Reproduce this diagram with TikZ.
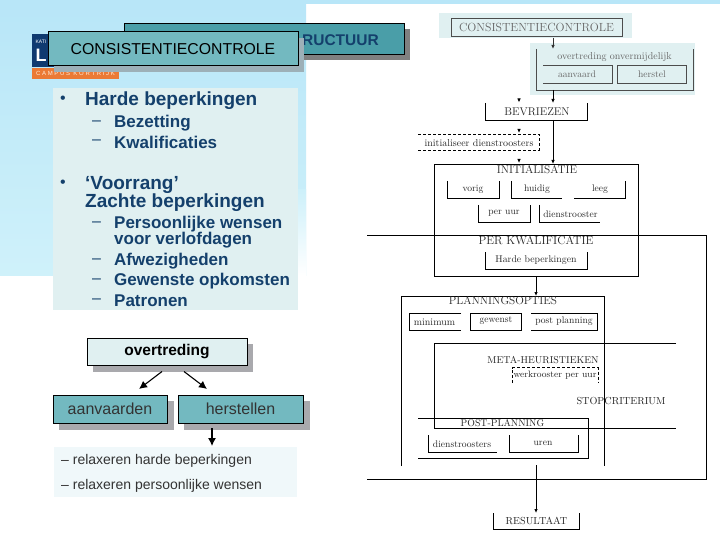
\documentclass[tikz,border=0pt]{standalone}
\usepackage{fontspec}
\setsansfont{Liberation Sans}
\usetikzlibrary{arrows.meta}
\definecolor{teal1}{HTML}{73B9C0}
\definecolor{teal2}{HTML}{4A9EA8}
\definecolor{panel}{HTML}{E0F0F1}
\definecolor{navy}{HTML}{14406C}
\definecolor{skybg}{HTML}{B8E6F8}
\definecolor{skybg2}{HTML}{CFF1FA}
\definecolor{shadowg}{HTML}{A9A9AD}
\definecolor{shadowb}{HTML}{9DB0B8}
\definecolor{logoor}{HTML}{EB7A35}
\definecolor{logonv}{HTML}{0F3A70}
\definecolor{relaxbg}{HTML}{F0F8FA}
\tikzset{
 x=1pt,y=-1pt,
 boxed/.style={draw=black,line width=.9pt,inner sep=0pt},
 ln/.style={line width=.9pt,black},
 arr/.style={line width=.9pt,-{Latex[length=4pt,width=3.5pt]}},
 bigarr/.style={line width=1.1pt,-{Latex[length=8pt,width=8pt]}},
 tbody/.style={font=\sffamily\bfseries\fontsize{19}{19}\selectfont,text=navy,anchor=west,inner sep=0pt},
 tsub/.style={font=\sffamily\bfseries\fontsize{17}{17}\selectfont,text=navy,anchor=west,inner sep=0pt},
 dashsub/.style={font=\sffamily\fontsize{16}{16}\selectfont,text=navy,anchor=west,inner sep=0pt},
 dg/.style={font=\rmfamily\fontsize{9.6}{9.6}\selectfont,text=black!85,inner sep=0pt},
 dgb/.style={font=\rmfamily\fontsize{10.2}{10.2}\selectfont,text=black!85,inner sep=0pt},
 dgc/.style={font=\rmfamily\fontsize{11.3}{11.3}\selectfont,text=black!85,inner sep=0pt},
 dgl/.style={font=\rmfamily\fontsize{9.6}{9.6}\selectfont,text=black!60,inner sep=0pt},
 lnl/.style={line width=.9pt,black!70},
 dsh/.style={line width=.9pt,black,dash pattern=on 3pt off 2pt},
}
\begin{document}
\begin{tikzpicture}
\useasboundingbox (0,0) rectangle (720,540);
\fill[white] (0,0) rectangle (720,540);
\shade[top color=skybg,bottom color=skybg2] (0,4) rectangle (306,275);
\shade[top color=skybg2!90!skybg,bottom color=white] (298,190) rectangle (306,275);
\fill[skybg] (0,0) rectangle (720,4);
% logo
\fill[logonv] (32,34) rectangle (119,67);
\fill[logoor] (32,68) rectangle (119,79);
\node[inner sep=0pt,text=white,font=\sffamily\bfseries\fontsize{18}{18}\selectfont] (logoL) at (41,55) {L};
\node[inner sep=0pt,text=white,font=\sffamily\fontsize{5}{5}\selectfont] (logotop) at (41,41.5) {KATI};
\node[inner sep=0pt,text=white!85!orange,font=\sffamily\fontsize{6}{6}\selectfont] (logocamp) at (75.5,73.5) {C A M P U S\ \ K O R T R I J K};
% title boxes
\fill[black!50] (130,29) rectangle (410,60.5);
\node[boxed,fill=teal2,minimum width=280pt,minimum height=31pt] (titlebox) at (264,38.5) {};
\node[inner sep=0pt,text=navy,font=\sffamily\bfseries\fontsize{15.5}{15.5}\selectfont,anchor=east] (titletext) at (379,40) {RUCTUUR};
\fill[shadowb] (54,38) rectangle (304,72);
\node[boxed,fill=teal1,minimum width=250pt,minimum height=34.5pt] (consbox) at (173,48.7) {};
\node[inner sep=0pt,font=\sffamily\fontsize{15.8}{15.8}\selectfont] (constext) at (173,49.5) {CONSISTENTIECONTROLE};
% text panel
\fill[panel] (53,88) rectangle (298,310);
\node[inner sep=0pt,text=navy,font=\sffamily\fontsize{16}{16}\selectfont] (b1) at (63,100) {•};
\node[tbody] (t1) at (85,101) {Harde beperkingen};
\node[tsub] (t2) at (114,123) {Bezetting};
\node[tsub] (t3) at (114,142) {Kwalificaties};
\node[dashsub] (d2) at (92,123) {–};
\node[dashsub] (d3) at (92,142) {–};
\node[inner sep=0pt,text=navy,font=\sffamily\fontsize{16}{16}\selectfont] (b2) at (63,184) {•};
\node[tbody] (t4) at (85,185) {`Voorrang’};
\node[tbody] (t5) at (85,203) {Zachte beperkingen};
\node[dashsub] (d6) at (92,224) {–};
\node[tsub] (t6) at (114,224) {Persoonlijke wensen};
\node[tsub] (t7) at (114,240) {voor verlofdagen};
\node[dashsub] (d8) at (92,261) {–};
\node[tsub] (t8) at (114,261) {Afwezigheden};
\node[dashsub] (d9) at (92,281) {–};
\node[tsub] (t9) at (114,281) {Gewenste opkomsten};
\node[dashsub] (d10) at (92,301) {–};
\node[tsub] (t10) at (114,301) {Patronen};
% overtreding
\fill[shadowg] (93,344) rectangle (253,371.5);
\node[boxed,fill=panel,minimum width=160pt,minimum height=27pt,font=\sffamily\bfseries\fontsize{15.5}{15.5}\selectfont] (ov) at (167,351.5) {overtreding};
\fill[shadowg] (59,401) rectangle (174,430);
\node[boxed,fill=teal1,minimum width=114pt,minimum height=28pt,font=\sffamily\fontsize{16}{16}\selectfont,text=black!80] (aan) at (110,409) {aanvaarden};
\fill[shadowg] (184,401) rectangle (310,430);
\node[boxed,fill=teal1,minimum width=125pt,minimum height=28pt,font=\sffamily\fontsize{16}{16}\selectfont,text=black!80] (her) at (240.5,409) {herstellen};
\node[fill=relaxbg,minimum width=243pt,minimum height=50pt,inner sep=0pt] (relax) at (175.5,472) {};
\node[inner sep=0pt,anchor=west,font=\sffamily\fontsize{14}{14}\selectfont,text=black!80] (r1) at (61,460.5) {– relaxeren harde beperkingen};
\node[inner sep=0pt,anchor=west,font=\sffamily\fontsize{14}{14}\selectfont,text=black!80] (r2) at (61,485.5) {– relaxeren persoonlijke wensen};
\coordinate (oa) at (162,371.5);
\coordinate (ob) at (184,371.5);
\coordinate (oat) at (139,389);
\coordinate (obt) at (207,389);
\coordinate (ha) at (212,428);
\coordinate (hb) at (212,446);
\draw[bigarr] (oa) -- (oat);
\draw[bigarr] (ob) -- (obt);
\draw[bigarr] (ha) -- (hb);
% right diagram panels
\fill[panel] (439,13) rectangle (632,38);
\fill[panel] (530,43) rectangle (695,95);
\node[draw=black!70,line width=.9pt,minimum width=171pt,minimum height=18pt,dgl,font=\rmfamily\fontsize{11.8}{11.8}\selectfont] (cc) at (536.5,27) {CONSISTENTIECONTROLE};
\node[dgl,font=\rmfamily\fontsize{10}{10}\selectfont] (ovo) at (614.5,57.5) {overtreding onvermijdelijk};
\draw[lnl] (536,49) -- (536,90) -- (693,90) -- (693,49);
\draw[lnl] (543,65) -- (612,65) -- (612,83) -- (543,83);
\draw[lnl] (617,65) rectangle (686,83);
\node[dgl] (aanv) at (577,74.5) {aanvaard};
\node[dgl] (herst) at (652,74.5) {herstel};
\coordinate (a1) at (553,38);
\coordinate (a1b) at (553,49);
\draw[arr,black!80] (a1) -- (a1b);
\coordinate (a2) at (553,90);
\coordinate (a2b) at (553,103);
\draw[arr] (a2) -- (a2b);
\draw[ln] (485.5,103) -- (485.5,120) -- (587.5,120) -- (587.5,103);
\node[dgc,font=\rmfamily\fontsize{11.2}{11.2}\selectfont] (bev) at (537,112) {BEVRIEZEN};
\coordinate (s1) at (519,99); \coordinate (s1b) at (519,102.5);
\draw[arr] (s1) -- (s1b);
\coordinate (s2) at (519,129.5); \coordinate (s2b) at (519,133);
\draw[arr] (s2) -- (s2b);
\coordinate (s3) at (519,159); \coordinate (s3b) at (519,163);
\draw[arr] (s3) -- (s3b);
\draw[dsh] (418,134.5) -- (539,134.5) -- (539,150) -- (418,150);
\node[dg,font=\rmfamily\fontsize{10}{10}\selectfont] (ini) at (479,143) {initialiseer dienstroosters};
\coordinate (b2a) at (553,120); \coordinate (b2b) at (553,164);
\draw[arr] (b2a) -- (b2b);
% initialisatie
\draw[ln] (434.5,164.5) rectangle (638.5,276.5);
\node[dgc] (in) at (537,170) {INITIALISATIE};
\draw[ln] (447,181) -- (447,198) -- (499,198) -- (499,181);
\node[dg] (vo) at (473,189) {vorig};
\draw[ln] (511,181) -- (511,198) -- (562,198);
\node[dg] (hu) at (537,189) {huidig};
\draw[ln] (574,198) -- (625,198) -- (625,181);
\node[dg] (le) at (600,189) {leeg};
\draw[ln] (478.5,205) -- (478.5,222) -- (530.5,222) -- (530.5,205);
\node[dg] (pe) at (504,213) {per uur};
\draw[ln] (539,205) -- (539,222) -- (600,222);
\node[dg] (di) at (570.5,214) {dienstrooster};
% big outer
\draw[ln] (367,235.5) -- (706.5,235.5) -- (706.5,479) -- (367,479);
\node[dgc,font=\rmfamily\fontsize{11.7}{11.7}\selectfont] (pk) at (536,240) {PER KWALIFICATIE};
\draw[ln] (485.5,252) -- (485.5,269) -- (587.5,269) -- (587.5,252);
\node[dg,font=\rmfamily\fontsize{9.8}{9.8}\selectfont] (hb2) at (536,260) {Harde beperkingen};
\coordinate (p1) at (536,276.5); \coordinate (p2) at (536,296);
\draw[arr] (p1) -- (p2);
% planning
\draw[ln] (401.5,466) -- (401.5,296) -- (604.5,296) -- (604.5,466);
\node[dgc] (pl) at (503,301) {PLANNINGSOPTIES};
\draw[ln] (461,313.5) -- (409.5,313.5) -- (409.5,330.5) -- (461,330.5);
\node[dg,font=\rmfamily\fontsize{10}{10}\selectfont] (mi) at (434.5,322) {minimum};
\draw[ln] (470,313.5) rectangle (521.5,330.5);
\node[dg] (gw) at (496,321) {gewenst};
\draw[ln] (531,313.5) -- (597,313.5) -- (597,330.5) -- (531,330.5);
\node[dg] (po) at (564,321) {post planning};
% meta
\draw[ln] (676,343.5) -- (434.5,343.5) -- (434.5,428.5) -- (676,428.5);
\node[dgb,font=\rmfamily\fontsize{10}{10}\selectfont] (me) at (543,360) {META-HEURISTIEKEN};
\draw[dsh] (512.5,383) -- (512.5,367.5) -- (598,367.5) -- (598,383);
\node[dg,font=\rmfamily\fontsize{9.3}{9.3}\selectfont] (we) at (555,375.5) {werkrooster per uur};
\node[dgb] (st) at (621,401) {STOPCRITERIUM};
% post
\draw[ln] (418,418.5) -- (588,418.5) -- (588,458) -- (418,458);
\node[dgb,font=\rmfamily\fontsize{9.8}{9.8}\selectfont] (pp) at (502.5,423) {POST-PLANNING};
\draw[ln] (428,435) -- (428,452) -- (497,452);
\node[dg] (ds) at (462,444) {dienstroosters};
\draw[ln] (509,435) -- (509,452) -- (578,452) -- (578,435);
\node[dg] (ur) at (543,443) {uren};
% result
\coordinate (r1a) at (536,465); \coordinate (r1b) at (536,513);
\draw[arr] (r1a) -- (r1b);
\draw[ln] (493.5,513) -- (493.5,529) -- (579,529) -- (579,513);
\node[dgb] (re) at (536.5,521) {RESULTAAT};
\end{tikzpicture}
\end{document}
